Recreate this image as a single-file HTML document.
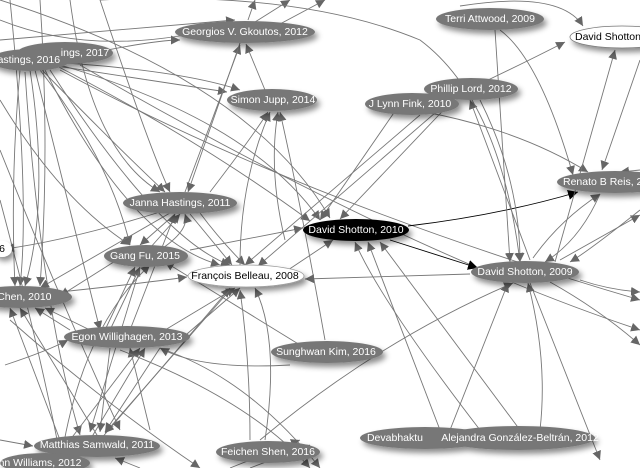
<!DOCTYPE html>
<html><head><meta charset="utf-8"><style>
html,body{margin:0;padding:0;background:#fff;width:640px;height:468px;overflow:hidden}
svg{display:block}
text{font-family:"Liberation Sans",sans-serif;font-size:10.5px;text-anchor:middle;dominant-baseline:central}
</style></head><body>
<svg width="640" height="468" viewBox="0 0 640 468" xmlns="http://www.w3.org/2000/svg">
<defs>
<marker id="a" viewBox="0 0 10 10" refX="10" refY="5" markerWidth="9" markerHeight="9" orient="auto" markerUnits="userSpaceOnUse"><path d="M0,0 L10,5 L0,10 z" fill="#666"/></marker>
<marker id="b" viewBox="0 0 10 10" refX="10" refY="5" markerWidth="10" markerHeight="10" orient="auto" markerUnits="userSpaceOnUse"><path d="M0,0 L10,5 L0,10 z" fill="#000"/></marker>
<filter id="s" x="-30%" y="-60%" width="160%" height="240%"><feDropShadow dx="3" dy="4" stdDeviation="3" flood-color="#000" flood-opacity="0.45"/></filter>
</defs>
<g fill="none" stroke="#777" stroke-width="0.9" marker-end="url(#a)">
<path d="M10,0 Q30,200 20,286"/>
<path d="M40,0 Q50,150 40,286"/>
<path d="M70,0 Q90,150 160,192"/>
<path d="M100,0 Q150,150 170,192"/>
<path d="M0,20 Q100,60 230,25"/>
<path d="M0,40 Q120,30 235,20"/>
<path d="M60,60 Q150,40 180,40"/>
<path d="M50,65 Q150,80 227,92"/>
<path d="M50,62 Q180,70 240,90"/>
<path d="M55,65 Q200,140 310,221"/>
<path d="M60,65 Q250,120 320,220"/>
<path d="M40,68 Q120,150 165,192"/>
<path d="M40,70 Q110,160 130,245"/>
<path d="M30,70 Q50,200 25,286"/>
<path d="M20,70 Q10,180 15,286"/>
<path d="M45,70 Q130,240 220,265"/>
<path d="M50,70 Q160,240 230,265"/>
<path d="M35,70 Q80,250 100,330"/>
<path d="M25,72 Q40,300 80,435"/>
<path d="M60,70 Q300,200 640,300"/>
<path d="M80,65 Q400,250 640,330"/>
<path d="M0,100 Q60,200 130,245"/>
<path d="M0,150 Q60,300 120,430"/>
<path d="M0,200 Q40,350 60,455"/>
<path d="M185,192 L240,45"/>
<path d="M240,43 L188,192"/>
<path d="M265,90 L246,44"/>
<path d="M210,192 Q250,140 268,112"/>
<path d="M250,40 L325,0"/>
<path d="M248,20 L255,0"/>
<path d="M255,22 L290,0"/>
<path d="M285,240 Q268,170 278,112"/>
<path d="M325,340 Q300,200 280,112"/>
<path d="M200,213 Q220,240 245,265"/>
<path d="M190,214 L232,265"/>
<path d="M175,214 L140,245"/>
<path d="M160,212 Q70,240 5,249"/>
<path d="M170,213 L40,288"/>
<path d="M150,248 L180,214"/>
<path d="M160,250 Q190,230 185,214"/>
<path d="M130,330 L175,214"/>
<path d="M240,265 Q240,180 270,112"/>
<path d="M190,250 L303,228"/>
<path d="M285,272 L333,240"/>
<path d="M400,104 L320,220"/>
<path d="M455,98 L340,219"/>
<path d="M420,115 L245,265"/>
<path d="M450,100 L258,266"/>
<path d="M440,430 L368,242"/>
<path d="M520,430 L380,242"/>
<path d="M480,430 Q380,300 355,242"/>
<path d="M0,0 Q250,80 330,218"/>
<path d="M408,226 Q500,215 578,192" stroke="#000" marker-end="url(#b)"/>
<path d="M390,240 L478,268" stroke="#000" marker-end="url(#b)"/>
<path d="M460,6 Q560,-10 583,26"/>
<path d="M500,30 Q540,60 573,175"/>
<path d="M488,80 Q530,60 565,42"/>
<path d="M425,112 Q520,130 588,172"/>
<path d="M480,100 Q520,180 520,262"/>
<path d="M495,30 L510,262"/>
<path d="M555,262 L615,50"/>
<path d="M640,60 L602,170"/>
<path d="M640,170 L620,172"/>
<path d="M533,258 Q560,220 600,194"/>
<path d="M600,194 Q580,240 545,262"/>
<path d="M530,260 L470,100"/>
<path d="M560,260 L640,215"/>
<path d="M100,0 Q300,-10 420,40 Q500,100 520,262"/>
<path d="M470,274 L305,279"/>
<path d="M580,280 Q610,290 640,292"/>
<path d="M550,282 Q600,310 640,345"/>
<path d="M530,283 L600,460"/>
<path d="M450,430 L508,283"/>
<path d="M540,430 Q548,360 528,283"/>
<path d="M260,440 Q380,340 513,283"/>
<path d="M640,210 Q590,250 570,262"/>
<path d="M30,295 Q130,285 187,277"/>
<path d="M180,340 L240,288"/>
<path d="M140,345 L235,288"/>
<path d="M100,440 L230,288"/>
<path d="M265,440 Q280,340 255,288"/>
<path d="M250,440 Q250,360 240,290"/>
<path d="M300,345 L165,262"/>
<path d="M290,365 Q200,370 160,348"/>
<path d="M110,330 L140,267"/>
<path d="M105,330 L135,267"/>
<path d="M120,258 L60,296"/>
<path d="M70,330 L35,308"/>
<path d="M90,330 L45,308"/>
<path d="M100,440 L20,308"/>
<path d="M60,440 L10,308"/>
<path d="M5,365 Q50,350 68,340"/>
<path d="M70,440 L140,348"/>
<path d="M90,440 L145,348"/>
<path d="M150,430 L130,348"/>
<path d="M110,348 L100,432"/>
<path d="M160,348 L105,432"/>
<path d="M230,290 L105,433"/>
<path d="M140,268 L90,432"/>
<path d="M0,440 L33,446"/>
<path d="M60,466 Q80,330 150,265"/>
<path d="M140,468 L115,458"/>
<path d="M165,350 Q250,380 320,468"/>
<path d="M120,350 Q250,400 310,468"/>
<path d="M10,320 Q100,400 200,468"/>
<path d="M230,468 L300,440"/>
<path d="M250,468 L310,445"/>
</g>
<g filter="url(#s)">
<ellipse cx="65" cy="53" rx="48" ry="11" fill="#777"/>
<ellipse cx="30" cy="60" rx="40" ry="11" fill="#777"/>
<ellipse cx="245" cy="32" rx="70" ry="11" fill="#777"/>
<ellipse cx="272" cy="100" rx="45" ry="11" fill="#777"/>
<ellipse cx="180" cy="203" rx="57" ry="11" fill="#777"/>
<ellipse cx="490" cy="19" rx="54" ry="11" fill="#777"/>
<ellipse cx="622" cy="37" rx="52" ry="11" fill="#fff" stroke="#777" stroke-width="0.8"/>
<ellipse cx="471" cy="89" rx="47" ry="11" fill="#777"/>
<ellipse cx="412" cy="104" rx="47" ry="11" fill="#777"/>
<ellipse cx="615" cy="182" rx="58" ry="11" fill="#777"/>
<ellipse cx="356" cy="230" rx="53" ry="11" fill="#000"/>
<ellipse cx="525" cy="272" rx="54" ry="11" fill="#777"/>
<ellipse cx="146" cy="256" rx="42" ry="11" fill="#777"/>
<ellipse cx="246" cy="276" rx="58" ry="11" fill="#fff" stroke="#999" stroke-width="0.8"/>
<ellipse cx="20" cy="297" rx="52" ry="11" fill="#777"/>
<ellipse cx="127" cy="337" rx="63" ry="11" fill="#777"/>
<ellipse cx="327" cy="352" rx="56" ry="11" fill="#777"/>
<ellipse cx="97" cy="446" rx="63" ry="11" fill="#777"/>
<ellipse cx="45" cy="463" rx="45" ry="10" fill="#777"/>
<ellipse cx="268" cy="452" rx="52" ry="11" fill="#777"/>
<ellipse cx="425" cy="438" rx="65" ry="11" fill="#777"/>
<ellipse cx="518" cy="438" rx="77" ry="12" fill="#777"/>
<ellipse cx="2" cy="249" rx="10" ry="8" fill="#fff"/>
</g>
<g fill="#fff">
<text x="85" y="53">ings, 2017</text>
<text x="25" y="60">Hastings, 2016</text>
<text x="245" y="32">Georgios V. Gkoutos, 2012</text>
<text x="273" y="100">Simon Jupp, 2014</text>
<text x="180" y="203">Janna Hastings, 2011</text>
<text x="490" y="19">Terri Attwood, 2009</text>
<text x="575" y="37" fill="#000" style="text-anchor:start">David Shotton, 2011</text>
<text x="471" y="89">Phillip Lord, 2012</text>
<text x="410" y="104">J Lynn Fink, 2010</text>
<text x="563" y="182" style="text-anchor:start">Renato B Reis, 2011</text>
<text x="356" y="230">David Shotton, 2010</text>
<text x="525" y="272">David Shotton, 2009</text>
<text x="145" y="256">Gang Fu, 2015</text>
<text x="245" y="276" fill="#000">François Belleau, 2008</text>
<text x="20" y="297">n Chen, 2010</text>
<text x="127" y="337">Egon Willighagen, 2013</text>
<text x="326" y="352">Sunghwan Kim, 2016</text>
<text x="97" y="445">Matthias Samwald, 2011</text>
<text x="40" y="463">hn Williams, 2012</text>
<text x="268" y="452">Feichen Shen, 2016</text>
<text x="395" y="438">Devabhaktu</text>
<text x="520" y="438">Alejandra González-Beltrán, 2012</text>
<text x="2" y="249" fill="#000">6</text>
</g>
</svg>
</body></html>
